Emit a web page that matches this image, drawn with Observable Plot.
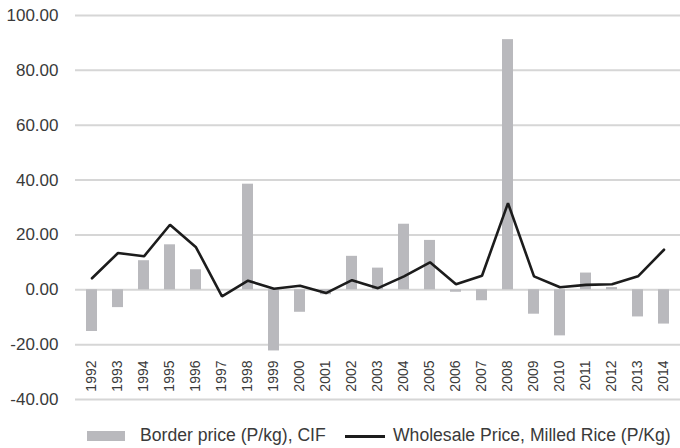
<!DOCTYPE html>
<html>
<head>
<meta charset="utf-8">
<script src="https://cdn.jsdelivr.net/npm/d3@7"></script>
<script src="https://cdn.jsdelivr.net/npm/@observablehq/plot@0.6"></script>
<style>
  html, body { margin: 0; padding: 0; background: #fff; }
  #wrap { position: relative; width: 680px; height: 448px; font-family: "Liberation Sans", Arial, sans-serif; }
  .legend { position: absolute; top: 424px; left: 0; width: 680px; height: 24px; font-size: 17.6px; color: #3a3a3a; }
  .legend .sw { position: absolute; }
  .legend .lb { position: absolute; top: 1px; white-space: nowrap; line-height: 20px; }
</style>
</head>
<body>
<div id="wrap"></div>
<script>
const years = ["1992","1993","1994","1995","1996","1997","1998","1999","2000","2001","2002","2003","2004","2005","2006","2007","2008","2009","2010","2011","2012","2013","2014"];
const borderPrice = [-15.2,-6.5,10.6,16.4,7.3,0,38.5,-22.3,-8.2,-1.8,12.2,7.9,23.9,18.0,-0.9,-4.0,91.2,-8.9,-16.8,6.1,0.8,-9.9,-12.5];
const wholesalePrice = [4.2,13.4,12.2,23.7,15.5,-2.4,3.3,0.4,1.5,-1.2,3.5,0.6,4.9,10.0,2.0,5.1,31.6,4.9,0.9,1.8,2.0,4.9,14.6];
const yTicks = [-40,-20,0,20,40,60,80,100];
const seriesNames = ["Border price (P/kg), CIF", "Wholesale Price, Milled Rice (P/Kg)"];

const data = years.map((y, i) => ({year: y, border: borderPrice[i], wholesale: wholesalePrice[i]}));

const chart = Plot.plot({
  width: 680,
  height: 420,
  marginLeft: 75,
  marginRight: 0,
  marginTop: 15,
  marginBottom: 21,
  style: {fontFamily: "Liberation Sans, Arial, sans-serif", color: "#3a3a3a", background: "#fff"},
  x: {type: "band", domain: years, paddingInner: 0.58, paddingOuter: 0.29, label: null},
  y: {domain: [-40, 100], label: null},
  marks: [
    Plot.gridY(yTicks, {stroke: "#d6d6d6", strokeOpacity: 1, strokeWidth: 2}),
    Plot.barY(data, {x: "year", y: "border", fill: "#b9b9bd"}),
    Plot.line(data, {x: "year", y: "wholesale", stroke: "#1c1c1c", strokeWidth: 2.6, strokeLinejoin: "miter"}),
    Plot.axisY(yTicks, {tickSize: 0, tickPadding: 17, tickFormat: d => d.toFixed(2), fontSize: 17, fill: "#3a3a3a"}),
    Plot.axisX({anchor: "bottom", tickSize: 0, tickPadding: 0, tickRotate: -90, dy: -39, fontSize: 14, fill: "#3a3a3a"})
  ]
});

const wrap = document.getElementById("wrap");
wrap.appendChild(chart);

const legend = document.createElement("div");
legend.className = "legend";
legend.innerHTML = `
  <div class="sw" style="left:87px; top:7px; width:38px; height:10px; background:#b9b9bd;"></div>
  <div class="lb" style="left:140px;">${seriesNames[0]}</div>
  <div class="sw" style="left:345px; top:11px; width:40px; height:3px; background:#1c1c1c;"></div>
  <div class="lb" style="left:393px;">${seriesNames[1]}</div>
`;
wrap.appendChild(legend);
</script>
</body>
</html>
